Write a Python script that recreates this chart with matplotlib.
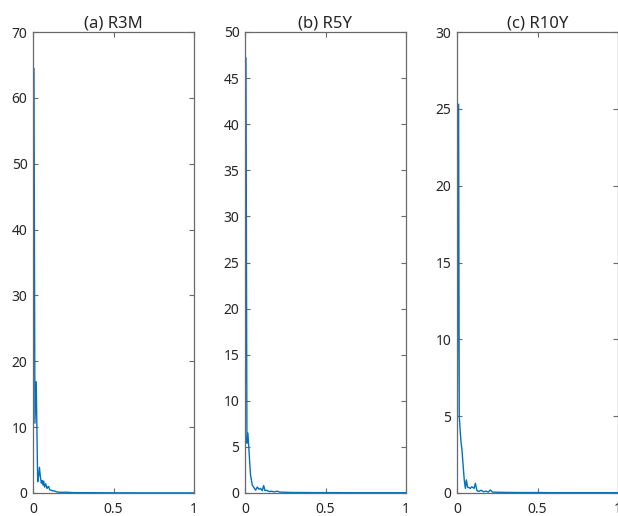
import numpy as np
import matplotlib.pyplot as plt

# frequency / spectrum readings for each series
a_freq = [0.000, 0.006, 0.012, 0.020, 0.029, 0.035, 0.040, 0.046, 0.052, 0.056, 0.062, 0.066,
          0.072, 0.079, 0.087, 0.092, 0.097, 0.104, 0.110, 0.120, 0.135, 0.150, 0.175, 0.200,
          0.250, 0.300, 0.400, 0.500, 0.600, 0.700, 0.800, 0.900, 1.000]
a_pow = [0.0, 64.5, 10.6, 16.9, 1.7, 2.6, 3.9, 2.4, 1.5, 1.9, 1.2, 1.8,
         0.9, 1.4, 0.7, 0.9, 1.0, 0.5, 0.45, 0.35, 0.3, 0.15, 0.1, 0.12,
         0.06, 0.05, 0.04, 0.03, 0.03, 0.02, 0.02, 0.02, 0.02]

b_freq = [0.000, 0.006, 0.012, 0.018, 0.034, 0.045, 0.055, 0.066, 0.076, 0.087, 0.097, 0.107,
          0.116, 0.124, 0.134, 0.150, 0.165, 0.180, 0.200, 0.215, 0.240, 0.280, 0.350, 0.450,
          0.550, 0.650, 0.750, 0.850, 1.000]
b_pow = [0.0, 47.2, 5.4, 6.5, 2.0, 0.87, 0.6, 0.3, 0.65, 0.4, 0.5, 0.25,
         0.8, 0.25, 0.3, 0.15, 0.2, 0.12, 0.2, 0.1, 0.08, 0.06, 0.05, 0.04,
         0.04, 0.03, 0.03, 0.03, 0.03]

c_freq = [0.000, 0.010, 0.014, 0.020, 0.025, 0.031, 0.038, 0.045, 0.052, 0.058, 0.066, 0.074,
          0.083, 0.090, 0.098, 0.106, 0.114, 0.124, 0.135, 0.150, 0.165, 0.180, 0.195, 0.207,
          0.220, 0.250, 0.300, 0.400, 0.500, 0.600, 0.700, 0.800, 0.900, 1.000]
c_pow = [0.0, 25.3, 5.0, 4.0, 3.3, 2.8, 1.8, 0.85, 0.3, 0.85, 0.37, 0.35,
         0.3, 0.4, 0.37, 0.3, 0.63, 0.15, 0.1, 0.18, 0.08, 0.12, 0.06, 0.2,
         0.06, 0.05, 0.04, 0.03, 0.03, 0.02, 0.02, 0.02, 0.02, 0.02]

titles = ['(a) R3M', '(b) R5Y', '(c) R10Y']
ylims = [70, 50, 30]
ysteps = [10, 5, 5]

plt.rcParams['font.family'] = ['Noto Sans', 'DejaVu Sans']

fig = plt.figure(figsize=(6.18, 5.16), dpi=100)
lefts = [33, 245, 457]
series = [(a_freq, a_pow), (b_freq, b_pow), (c_freq, c_pow)]

for i in range(3):
    ax = fig.add_axes([lefts[i] / 618, 23 / 516, 161 / 618, 461 / 516])
    f, p = series[i]
    ax.plot(f, p, color='#0072BD', lw=1.0)
    ax.set_xlim(0, 1)
    ax.set_ylim(0, ylims[i])
    ax.set_xticks([0, 0.5, 1])
    ax.set_xticklabels(['0', '0.5', '1'])
    ax.set_yticks(np.arange(0, ylims[i] + 1, ysteps[i]))
    ax.tick_params(direction='in', length=3.5, width=0.8, color='#6a6a6a',
                   labelcolor='#262626', labelsize=10, top=True, right=True)
    ax.tick_params(axis='x', pad=6.5)
    ax.tick_params(axis='y', pad=4)
    for s in ax.spines.values():
        s.set_color('#6a6a6a')
        s.set_linewidth(0.9)
    ax.set_title(titles[i], fontsize=12, color='#262626', pad=3)

fig.savefig('out.png', dpi=100)
